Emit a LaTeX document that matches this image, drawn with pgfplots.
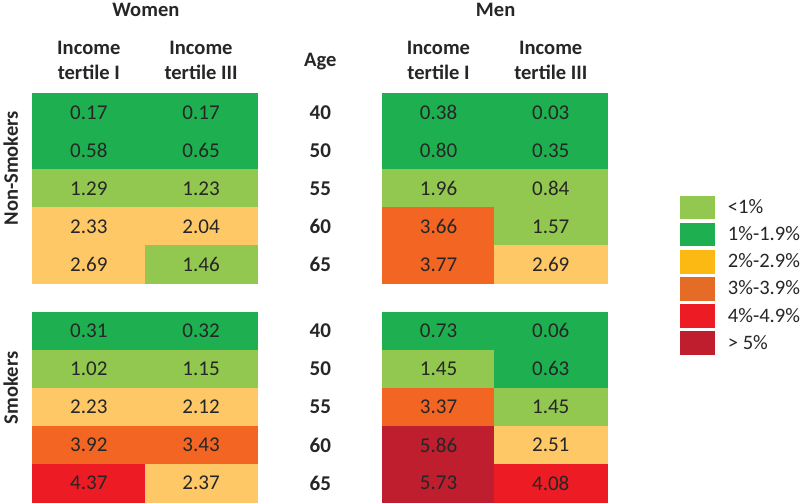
\documentclass[border=0pt]{standalone}
\usepackage{fontspec}
\setmainfont{Carlito}
\usepackage{pgfplots}
\usepackage{pgfplotstable}
\pgfplotsset{compat=1.18}
\definecolor{cLG}{RGB}{146,200,80}
\definecolor{cDG}{RGB}{30,176,80}
\definecolor{cPO}{RGB}{254,200,102}
\definecolor{cOR}{RGB}{242,101,34}
\definecolor{cRD}{RGB}{237,28,36}
\definecolor{cDR}{RGB}{190,30,45}
\definecolor{lgYE}{RGB}{253,185,19}
\definecolor{lgOR}{RGB}{228,108,38}
\definecolor{txt}{RGB}{38,38,38}
% colour index: 0 light green, 1 dark green, 2 pale orange, 3 orange, 4 red, 5 dark red
\pgfplotstableread{
x y c lab
91 109 1 0.17
203 109 1 0.17
91 147 1 0.58
203 147 1 0.65
91 185 0 1.29
203 185 0 1.23
91 223 2 2.33
203 223 2 2.04
91 261 2 2.69
203 261 0 1.46
}\wns
\pgfplotstableread{
x y c lab
440 109 1 0.38
552 109 1 0.03
440 147 1 0.80
552 147 1 0.35
440 185 0 1.96
552 185 0 0.84
440 223 3 3.66
552 223 0 1.57
440 261 3 3.77
552 261 2 2.69
}\mns
\pgfplotstableread{
x y c lab
91 327 1 0.31
203 327 1 0.32
91 365 0 1.02
203 365 0 1.15
91 403 2 2.23
203 403 2 2.12
91 441 3 3.92
203 441 3 3.43
91 479 4 4.37
203 479 2 2.37
}\wsm
\pgfplotstableread{
x y c lab
440 327 1 0.73
552 327 1 0.06
440 365 0 1.45
552 365 1 0.63
440 403 3 3.37
552 403 0 1.45
440 441 5 5.86
552 441 2 2.51
440 479 5 5.73
552 479 4 4.08
}\msm
\pgfplotstableread{
x y lab
322 109 40
322 147 50
322 185 55
322 223 60
322 261 65
322 327 40
322 365 50
322 403 55
322 441 60
322 479 65
}\ages
\begin{document}
\begin{tikzpicture}
\begin{axis}[
  scale only axis, width=800pt, height=498pt,
  xmin=0, xmax=800, ymin=0, ymax=498, y dir=reverse,
  hide axis, clip=false,
  colormap={cats}{rgb255=(146,200,80) rgb255=(30,176,80) rgb255=(254,200,102) rgb255=(242,101,34) rgb255=(237,28,36) rgb255=(190,30,45)},
  colormap access=direct,
  catbox/.style={legend image code/.code={\draw[white, line width=0.6pt, fill=#1] (0pt,-12.25pt) rectangle (36pt,12.25pt);}},
  legend style={at={(axis cs:680,191)}, anchor=north west, draw=none, fill=none,
    inner sep=0pt, nodes={inner sep=0pt, text=txt}, row sep=2pt, column sep=12pt,
    font=\fontsize{20.5}{24}\selectfont},
  legend cell align=left,
  numlab/.style={draw=none, mark=none, forget plot, nodes near coords,
    nodes near coords align=center, point meta=explicit symbolic,
    every node near coord/.append style={font=\fontsize{21}{24}\selectfont, text=txt, anchor=center}},
]
\addplot[matrix plot*, mesh/cols=2, point meta=explicit, forget plot] table[meta=c] {\wns};
\addplot[matrix plot*, mesh/cols=2, point meta=explicit, forget plot] table[meta=c] {\mns};
\addplot[matrix plot*, mesh/cols=2, point meta=explicit, forget plot] table[meta=c] {\wsm};
\addplot[matrix plot*, mesh/cols=2, point meta=explicit, forget plot] table[meta=c] {\msm};
\addplot[numlab] table[meta=lab] {\wns};
\addplot[numlab] table[meta=lab] {\mns};
\addplot[numlab] table[meta=lab] {\wsm};
\addplot[numlab] table[meta=lab] {\msm};
\addplot[numlab, every node near coord/.append style={font=\fontsize{21}{24}\selectfont\bfseries, text=black!85}] table[meta=lab] {\ages};
\addlegendimage{catbox=cLG}\addlegendentry{<1\%}
\addlegendimage{catbox=cDG}\addlegendentry{1\%-1.9\%}
\addlegendimage{catbox=lgYE}\addlegendentry{2\%-2.9\%}
\addlegendimage{catbox=lgOR}\addlegendentry{3\%-3.9\%}
\addlegendimage{catbox=cRD}\addlegendentry{4\%-4.9\%}
\addlegendimage{catbox=cDR}\addlegendentry{> 5\%}
\begin{scope}[every node/.style={font=\fontsize{20.5}{25}\selectfont\bfseries, text=black!85, align=center}]
\node at (axis cs:148,7) {Women};
\node at (axis cs:497,7) {Men};
\node at (axis cs:91,57) {Income\\tertile I};
\node at (axis cs:203,57) {Income\\tertile III};
\node at (axis cs:440,57) {Income\\tertile I};
\node at (axis cs:552,57) {Income\\tertile III};
\node at (axis cs:322,58) {Age};
\node[rotate=90] at (axis cs:13,165) {Non-Smokers};
\node[rotate=90] at (axis cs:13,384) {Smokers};
\end{scope}
\end{axis}
\end{tikzpicture}
\end{document}
